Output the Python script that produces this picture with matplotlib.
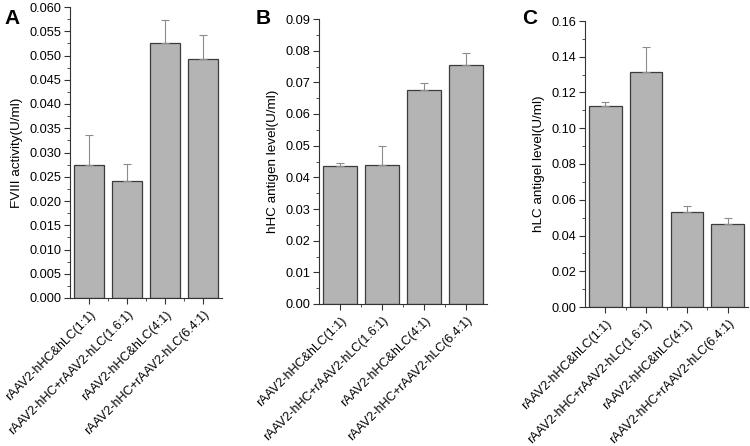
import numpy as np
import matplotlib.pyplot as plt
from matplotlib.ticker import MultipleLocator, FixedLocator

plt.rcParams['font.family'] = ['Liberation Sans', 'DejaVu Sans']

# ==========================================
#  Data
# ==========================================
groups = ["rAAV2-hHC&hLC(1:1)", "rAAV2-hHC+rAAV2-hLC(1.6:1)",
          "rAAV2-hHC&hLC(4:1)", "rAAV2-hHC+rAAV2-hLC(6.4:1)"]

fviii_mean = [0.0275, 0.0241, 0.0526, 0.0493]
fviii_err = [0.0062, 0.0036, 0.0047, 0.0049]

hhc_mean = [0.0435, 0.0438, 0.0675, 0.0755]
hhc_err = [0.0010, 0.0062, 0.0022, 0.0037]

hlc_mean = [0.1123, 0.1317, 0.0533, 0.0466]
hlc_err = [0.0022, 0.0135, 0.0034, 0.0034]

panels = [
    ("A", fviii_mean, fviii_err, "FVIII activity(U/ml)", 0.060, 0.005, 0.0025, "%.3f"),
    ("B", hhc_mean, hhc_err, "hHC antigen level(U/ml)", 0.09, 0.01, 0.005, "%.2f"),
    ("C", hlc_mean, hlc_err, "hLC antigel level(U/ml)", 0.16, 0.02, 0.01, "%.2f"),
]

# axes boxes in figure fraction (left, bottom, width, height)
boxes = [
    (70 / 750, 1 - 298 / 446, 152 / 750, 291 / 446),
    (319 / 750, 1 - 304 / 446, 168 / 750, 285 / 446),
    (585 / 750, 1 - 307 / 446, 163 / 750, 286 / 446),
]
letter_pos = [(4, 24), (256, 24), (522, 24)]

fig = plt.figure(figsize=(7.5, 4.46), dpi=100)
x = np.arange(len(groups))

for (letter, mean, err, ylabel, ymax, major, minor, fmt), box, lp in zip(panels, boxes, letter_pos):
    ax = fig.add_axes(box)
    ax.bar(x, mean, width=0.8, color='#b4b4b4', edgecolor='#3c3c3c', linewidth=0.9, zorder=2)
    ax.errorbar(x, mean, yerr=[np.zeros(len(err)), err], fmt='none',
                ecolor='#8c8c8c', elinewidth=0.8, capsize=3, capthick=0.8, zorder=3)
    ax.set_xlim(-0.5, 3.5)
    ax.set_ylim(0, ymax)
    ax.yaxis.set_major_locator(MultipleLocator(major))
    ax.yaxis.set_minor_locator(MultipleLocator(minor))
    ax.yaxis.set_major_formatter(plt.FormatStrFormatter(fmt))
    ax.xaxis.set_minor_locator(FixedLocator([0.5, 1.5, 2.5]))
    ax.set_xticks(x)
    ax.set_xticklabels(groups, rotation=45, ha='right', rotation_mode='anchor', fontsize=9)
    ax.tick_params(axis='y', labelsize=9.2, length=4, width=0.8, color='#333333', pad=2)
    ax.tick_params(axis='x', length=4, width=0.8, color='#333333')
    ax.tick_params(which='minor', length=2, width=0.6, color='#333333')
    for s in ['top', 'right']:
        ax.spines[s].set_visible(False)
    for s in ['left', 'bottom']:
        ax.spines[s].set_linewidth(0.8)
        ax.spines[s].set_color('#333333')
    ax.set_ylabel(ylabel, fontsize=9.7, labelpad=5)
    fig.text(lp[0] / 750, 1 - lp[1] / 446, letter, fontsize=15, fontweight='bold')

plt.savefig("out.png", dpi=100)
